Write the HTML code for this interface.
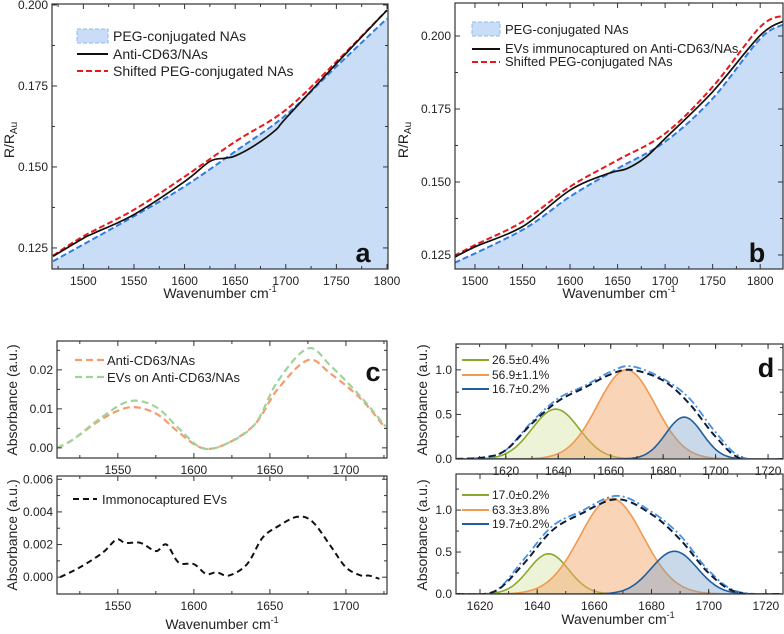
<!DOCTYPE html>
<html><head><meta charset="utf-8"><style>
body{margin:0;background:#fff}
svg{display:block;font-family:"Liberation Sans",Arial,sans-serif}
</style></head><body>
<svg id="fig" width="784" height="634" viewBox="0 0 784 634" xmlns="http://www.w3.org/2000/svg"></svg>
<script>
// ---- Panel a data ----
const aPegX=[1470,1550,1600,1650,1700,1750,1800];
const aPegY=[0.1209,0.1348,0.1440,0.1548,0.1660,0.1810,0.1958];
const aAntiX=[1470,1500,1510,1550,1600,1625,1640,1650,1670,1690,1700,1750,1800];
const aAntiY=[0.1224,0.1280,0.1295,0.1353,0.1455,0.1517,0.1527,0.1534,0.1568,0.1614,0.1650,0.1819,0.1984];
const aShiftX=[1470,1500,1550,1600,1650,1700,1750,1800];
const aShiftY=[0.1226,0.1286,0.1368,0.1470,0.1578,0.1676,0.1825,0.1984];
// ---- Panel b data ----
const bPegX=[1470,1550,1600,1650,1700,1750,1800,1825];
const bPegY=[0.1210,0.1336,0.1450,0.1546,0.1638,0.1786,0.1991,0.2040];
const bEvX=[1470,1500,1550,1600,1640,1660,1680,1700,1750,1800,1825];
const bEvY=[0.1227,0.1278,0.1347,0.1472,0.1529,0.1546,0.1586,0.1649,0.1809,0.2002,0.2052];
const bShiftX=[1470,1500,1550,1600,1650,1700,1750,1800,1825];
const bShiftY=[0.1233,0.1284,0.1364,0.1484,0.1575,0.1666,0.1826,0.2031,0.2070];
// ---- Panel c data ----
const cX=[1510,1520,1540,1558,1575,1590,1605,1620,1640,1655,1675,1690,1710,1726];
const cAnti=[0.000,0.002,0.0075,0.0104,0.0088,0.004,0.000,0.0008,0.006,0.015,0.0225,0.019,0.0125,0.005];
const cEvs=[0.000,0.002,0.008,0.012,0.0105,0.005,0.000,0.0008,0.006,0.017,0.0255,0.021,0.013,0.0055];
const cImmX=[1512,1525,1540,1549,1555,1565,1575,1582,1590,1600,1608,1615,1623,1635,1645,1655,1668,1678,1690,1700,1710,1715,1722];
const cImmY=[0,0.0006,0.0015,0.0023,0.0021,0.0021,0.0016,0.0020,0.0009,0.0008,0.0002,0.0003,0.0001,0.0008,0.0024,0.0031,0.0037,0.0034,0.0019,0.0006,0.0001,0.0001,-0.0001];
// ---- Panel d data ----
const d1Centers=[1639,1666,1688];
const d1Amps=[0.56,1.0,0.47];
const d1Widths=[9,11,7];
const d1Labels=["26.5±0.4%","56.9±1.1%","16.7±0.2%"];
const d1EnvX=[1601,1612,1620,1630,1640,1650,1660,1668,1680,1690,1700,1710,1726];
const d1EnvBlack=[0,0.02,0.1,0.4,0.65,0.8,0.95,1.0,0.88,0.62,0.25,0.0,0];
const d1EnvBlue=[0,0.02,0.1,0.42,0.68,0.82,0.98,1.04,0.9,0.68,0.3,0.02,0];
const d2Centers=[1644,1666,1688];
const d2Amps=[0.48,1.14,0.51];
const d2Widths=[7,11,8];
const d2Labels=["17.0±0.2%","63.3±3.8%","19.7±0.2%"];
const d2EnvX=[1612,1625,1635,1645,1655,1668,1680,1690,1700,1710,1726];
const d2EnvBlack=[0,0.03,0.35,0.75,0.95,1.13,0.95,0.65,0.25,0.02,0];
const d2EnvBlue=[0,0.03,0.4,0.8,0.98,1.17,0.98,0.7,0.28,0.03,0];

const NS="http://www.w3.org/2000/svg";
const svg=document.getElementById('fig');
function el(tag,attrs,parent){const e=document.createElementNS(NS,tag);for(const k in attrs)e.setAttribute(k,attrs[k]);(parent||svg).appendChild(e);return e;}
function txt(s,x,y,size,anchor,parent,extra){const t=el('text',Object.assign({x:x,y:y,'font-size':size,'text-anchor':anchor||'middle',fill:'#222'},extra||{}),parent);t.textContent=s;return t;}
function axes(p){ // p: x0,x1,y0,y1 (px), xd,yd domains
  p.sx=v=>p.x0+(v-p.xd[0])/(p.xd[1]-p.xd[0])*(p.x1-p.x0);
  p.sy=v=>p.y1-(v-p.yd[0])/(p.yd[1]-p.yd[0])*(p.y1-p.y0);
  return p;}
function frame(p,g,xt,yt,xminor,yminor,yfmt){
  el('rect',{x:p.x0,y:p.y0,width:p.x1-p.x0,height:p.y1-p.y0,fill:'none',stroke:'#333','stroke-width':1.2},g);
  const xa=el('g',{},g);
  const ya=el('g',{},g);
  xt.forEach(v=>{const x=p.sx(v);if(x<p.x0-1||x>p.x1+1)return;
    el('line',{x1:x,x2:x,y1:p.y1,y2:p.y1-5,stroke:'#333'},xa);el('line',{x1:x,x2:x,y1:p.y0,y2:p.y0+5,stroke:'#333'},xa);
    txt(String(v),x,p.y1+16,12,'middle',xa);});
  xminor.forEach(v=>{const x=p.sx(v);if(x<p.x0||x>p.x1)return;
    el('line',{x1:x,x2:x,y1:p.y1,y2:p.y1-3,stroke:'#333'},xa);el('line',{x1:x,x2:x,y1:p.y0,y2:p.y0+3,stroke:'#333'},xa);});
  yt.forEach(v=>{const y=p.sy(v);
    el('line',{x1:p.x0,x2:p.x0+5,y1:y,y2:y,stroke:'#333'},ya);el('line',{x1:p.x1,x2:p.x1-5,y1:y,y2:y,stroke:'#333'},ya);
    txt(yfmt(v),p.x0-4,y+4,12,'end',ya);});
  yminor.forEach(v=>{const y=p.sy(v);if(y<p.y0||y>p.y1)return;
    el('line',{x1:p.x0,x2:p.x0+3,y1:y,y2:y,stroke:'#333'},ya);el('line',{x1:p.x1,x2:p.x1-3,y1:y,y2:y,stroke:'#333'},ya);});
}
function pts(p,xs,ys){return xs.map((x,i)=>p.sx(x).toFixed(1)+','+p.sy(ys[i]).toFixed(1));}
function smooth(p,xs,ys){ // catmull-rom path
  const P=xs.map((x,i)=>[p.sx(x),p.sy(ys[i])]);let d='M'+P[0][0]+','+P[0][1];
  for(let i=0;i<P.length-1;i++){const a=P[Math.max(0,i-1)],b=P[i],c=P[i+1],e=P[Math.min(P.length-1,i+2)];
    d+=' C'+(b[0]+(c[0]-a[0])/6)+','+(b[1]+(c[1]-a[1])/6)+' '+(c[0]-(e[0]-b[0])/6)+','+(c[1]-(e[1]-b[1])/6)+' '+c[0]+','+c[1];}
  return d;}
function clip(p,id){const cp=el('clipPath',{id:id});el('rect',{x:p.x0,y:p.y0,width:p.x1-p.x0,height:p.y1-p.y0},cp);return 'url(#'+id+')';}
function ticks(a,b,s){const r=[];for(let v=a;v<=b+1e-9;v+=s)r.push(Math.round(v*1e6)/1e6);return r;}
function ylabel(s,x,y,g,sub){const t=el('text',{x:0,y:0,'font-size':14,'text-anchor':'middle',fill:'#222',transform:'translate('+x+','+y+') rotate(-90)'},g);
  t.textContent=s;if(sub){const ts=el('tspan',{'font-size':10,dy:3},t);ts.textContent=sub;}return t;}
function xlabel(x,y,g){const t=el('text',{x:x,y:y,'font-size':14,'text-anchor':'middle',fill:'#222'},g);t.textContent='Wavenumber cm';
  const s=el('tspan',{'font-size':9,dy:-6},t);s.textContent='-1';return t;}

// ===== Panel a =====
(function(){
const g=el('g',{});
const p=axes({x0:52,x1:388,y0:4,y1:269,xd:[1469,1801],yd:[0.1185,0.2003]});
const cl=clip(p,'ca');const pg=el('g',{'clip-path':cl},g);
const area=el('path',{d:smooth(p,aPegX,aPegY)+' L'+p.x1+','+p.y1+' L'+p.x0+','+p.y1+' Z',fill:'#c9ddf7'},pg);
const l1=el('path',{d:smooth(p,aPegX,aPegY),fill:'none',stroke:'#2f7de1','stroke-width':2,'stroke-dasharray':'6 3'},pg);
const l2=el('path',{d:smooth(p,aShiftX,aShiftY),fill:'none',stroke:'#e8191e','stroke-width':2,'stroke-dasharray':'6 3'},pg);
const l3=el('path',{d:smooth(p,aAntiX,aAntiY),fill:'none',stroke:'#111','stroke-width':1.7},pg);
frame(p,g,ticks(1500,1800,50),[0.125,0.15,0.175,0.2],ticks(1475,1800,50),ticks(0.1375,0.2,0.025),v=>v.toFixed(3));
const lg=el('g',{},g);
el('rect',{x:77,y:29,width:31,height:14,fill:'#c9ddf7',stroke:'#8fb8ee','stroke-dasharray':'4 2'},lg);txt('PEG-conjugated NAs',113,41,14,'start',lg);
el('line',{x1:77,x2:108,y1:54,y2:54,stroke:'#111','stroke-width':2},lg);txt('Anti-CD63/NAs',113,59,14,'start',lg);
el('line',{x1:77,x2:108,y1:71,y2:71,stroke:'#e8191e','stroke-width':2,'stroke-dasharray':'6 3'},lg);txt('Shifted PEG-conjugated NAs',113,76,14,'start',lg);
txt('a',363,262,27,'middle',g,{'font-weight':'bold',fill:'#111'});
ylabel('R/R',14,140,g,'Au');xlabel(220,298,g);
})();
// ===== Panel b =====
(function(){
const g=el('g',{});
const p=axes({x0:455,x1:783,y0:3,y1:269,xd:[1479,1824],yd:[0.1202,0.2113]});
const cl=clip(p,'cb');const pg=el('g',{'clip-path':cl},g);
const area=el('path',{d:smooth(p,bPegX,bPegY)+' L'+p.x1+','+p.y1+' L'+p.x0+','+p.y1+' Z',fill:'#c9ddf7'},pg);
const l1=el('path',{d:smooth(p,bPegX,bPegY),fill:'none',stroke:'#2f7de1','stroke-width':2,'stroke-dasharray':'6 3'},pg);
const l2=el('path',{d:smooth(p,bShiftX,bShiftY),fill:'none',stroke:'#e8191e','stroke-width':2,'stroke-dasharray':'6 3'},pg);
const l3=el('path',{d:smooth(p,bEvX,bEvY),fill:'none',stroke:'#111','stroke-width':1.7},pg);
frame(p,g,ticks(1500,1800,50),[0.125,0.15,0.175,0.2],ticks(1475,1825,50),ticks(0.1375,0.2125,0.025),v=>v.toFixed(3));
const lg=el('g',{},g);
el('rect',{x:472,y:22,width:28,height:14,fill:'#c9ddf7',stroke:'#8fb8ee','stroke-dasharray':'4 2'},lg);txt('PEG-conjugated NAs',505,34,13,'start',lg);
el('line',{x1:472,x2:500,y1:49,y2:49,stroke:'#111','stroke-width':2},lg);txt('EVs immunocaptured on Anti-CD63/NAs',505,53,13,'start',lg);
el('line',{x1:472,x2:500,y1:62,y2:62,stroke:'#e8191e','stroke-width':2,'stroke-dasharray':'6 3'},lg);txt('Shifted PEG-conjugated NAs',505,66,13,'start',lg);
txt('b',757,262,27,'middle',g,{'font-weight':'bold',fill:'#111'});
ylabel('R/R',408,140,g,'Au');xlabel(619,298,g);
})();
// ===== Panel c =====
(function(){
const g=el('g',{});
const p=axes({x0:57,x1:387,y0:341,y1:458,xd:[1510,1727],yd:[-0.0026,0.0274]});
const cl=clip(p,'cc');const pg=el('g',{'clip-path':cl},g);
const a=el('path',{d:smooth(p,cX,cAnti),fill:'none',stroke:'#f79a6e','stroke-width':2.2,'stroke-dasharray':'7 4'},pg);
const b=el('path',{d:smooth(p,cX,cEvs),fill:'none',stroke:'#9ed49a','stroke-width':2.2,'stroke-dasharray':'7 4'},pg);
frame(p,g,[1550,1600,1650,1700],[0,0.01,0.02],ticks(1525,1725,50),[0.005,0.015,0.025],v=>v.toFixed(2));
const lg=el('g',{},g);
el('line',{x1:75,x2:105,y1:360,y2:360,stroke:'#f79a6e','stroke-width':2.2,'stroke-dasharray':'7 4'},lg);txt('Anti-CD63/NAs',107,365,13,'start',lg);
el('line',{x1:75,x2:105,y1:377,y2:377,stroke:'#9ed49a','stroke-width':2.2,'stroke-dasharray':'7 4'},lg);txt('EVs on Anti-CD63/NAs',107,382,13,'start',lg);
txt('c',373,381,27,'middle',g,{'font-weight':'bold',fill:'#111'});
ylabel('Absorbance (a.u.)',17,400,g);
const q=axes({x0:57,x1:387,y0:476,y1:594,xd:[1510,1727],yd:[-0.00103,0.0062]});
const cl2=clip(q,'cc2');const qg=el('g',{'clip-path':cl2},g);
const c=el('path',{d:smooth(q,cImmX,cImmY),fill:'none',stroke:'#111','stroke-width':2,'stroke-dasharray':'6 4'},qg);
frame(q,g,[1550,1600,1650,1700],[0,0.002,0.004,0.006],ticks(1525,1725,50),[0.001,0.003,0.005],v=>v.toFixed(3));
el('line',{x1:73,x2:97,y1:499,y2:499,stroke:'#111','stroke-width':2,'stroke-dasharray':'6 4'},lg);txt('Immonocaptured EVs',102,504,13,'start',lg);
ylabel('Absorbance (a.u.)',17,535,g);xlabel(222,629,g);
})();
// ===== Panel d =====
const compCols=['#8aa829','#ef9a52','#1f5fa0'];
const compFills=['rgba(200,220,140,0.35)','rgba(245,170,110,0.5)','rgba(120,160,200,0.4)'];
function dPanel(g,p,id,centers,amps,widths,labels,envX,envBlack,envBlue,legY){
  const cl=clip(p,id);const pg=el('g',{'clip-path':cl},g);
  centers.forEach((c,i)=>{const xs=[],ys=[];for(let x=p.xd[0];x<=p.xd[1];x+=1){xs.push(x);ys.push(amps[i]*Math.exp(-0.5*Math.pow((x-c)/widths[i],2)));}
    const d='M'+pts(p,xs,ys).join(' L');
    const f=el('path',{d:d+' L'+p.sx(xs[xs.length-1])+','+p.y1+' L'+p.sx(xs[0])+','+p.y1+' Z',fill:compFills[i]},pg);
    const l=el('path',{d:d,fill:'none',stroke:compCols[i],'stroke-width':1.6},pg);});
  const e1=el('path',{d:smooth(p,envX,envBlue),fill:'none',stroke:'#4a90e2','stroke-width':1.8,'stroke-dasharray':'8 3 2 3'},pg);
  const e2=el('path',{d:smooth(p,envX,envBlack),fill:'none',stroke:'#0f1d3a','stroke-width':2,'stroke-dasharray':'7 4'},pg);
  frame(p,g,[1620,1640,1660,1680,1700,1720],[0,0.5,1.0],ticks(1610,1730,10),[0.25,0.75,1.25],v=>v.toFixed(1));
  const lg=el('g',{},g);
  labels.forEach((s,i)=>{el('line',{x1:462,x2:489,y1:legY[i],y2:legY[i],stroke:compCols[i],'stroke-width':2},lg);txt(s,492,legY[i]+4,12,'start',lg);});
}
(function(){
const g=el('g',{});
const p=axes({x0:456,x1:783,y0:344,y1:459,xd:[1601,1725.7],yd:[0,1.29]});
dPanel(g,p,'cd1',d1Centers,d1Amps,d1Widths,d1Labels,d1EnvX,d1EnvBlack,d1EnvBlue,[360,375,389]);
const q=axes({x0:456,x1:783,y0:474,y1:594,xd:[1611.6,1726],yd:[0,1.43]});
dPanel(g,q,'cd2',d2Centers,d2Amps,d2Widths,d2Labels,d2EnvX,d2EnvBlack,d2EnvBlue,[495,510,524]);
txt('d',766,377,27,'middle',g,{'font-weight':'bold',fill:'#111'});
ylabel('Absorbance (a.u.)',427,400,g);ylabel('Absorbance (a.u.)',427,535,g);xlabel(618,624,g);
})();
</script>
</body></html>
